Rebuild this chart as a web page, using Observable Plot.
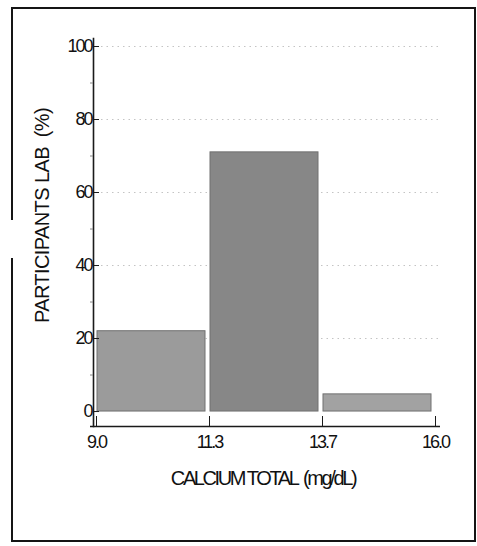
<!DOCTYPE html>
<html>
<head>
<meta charset="utf-8">
<script src="https://cdn.jsdelivr.net/npm/d3@7"></script>
<script src="https://cdn.jsdelivr.net/npm/@observablehq/plot@0.6"></script>
<style>
  html, body { margin: 0; padding: 0; background: #fff; }
  #wrap { position: relative; width: 477px; height: 546px; overflow: hidden; }
  #border { position: absolute; left: 11px; top: 7px; width: 461px; height: 531px;
            border: 2px solid #151515; box-sizing: content-box; pointer-events: none; }
  #gap { position: absolute; left: 6px; top: 220px; width: 12px; height: 38px; background: #fff; }
  #chart { position: absolute; left: 0; top: 0; }
  #chart g[aria-label="y-axis tick label"],
  #chart g[aria-label="x-axis tick label"] { font-size: 18px; }
  #chart g[aria-label="y-axis tick label"] text,
  #chart g[aria-label="x-axis tick label"] text { letter-spacing: -2px; }
  #chart g.xtitle text { letter-spacing: -2.4px; }
  #chart g.ytitle text { letter-spacing: -0.6px; }
</style>
</head>
<body>
<div id="wrap"><div id="chart"></div><div id="border"></div><div id="gap"></div></div>
<script>
// Bin boundaries (x tick labels), in mg/dL
const binEdges = ["9.0", "11.3", "13.7", "16.0"];
// Bins (lower / upper edge labels) and share of participant labs (%)
const binLower = ["9.0", "11.3", "13.7"];
const binUpper = ["11.3", "13.7", "16.0"];
const percentLabs = [22, 71, 4.7];
// Y axis ticks
const yTicks = [0, 20, 40, 60, 80, 100];
const yMinorTicks = [10, 30, 50, 70, 90];
const gridLines = [20, 40, 60, 80, 100];
const xTitle = "CALCIUM TOTAL  (mg/dL)";
const yTitle = "PARTICIPANTS LAB  (%)";
const yMin = -4.1;

const bars = binLower.map((lo, i) => ({
  lo: binEdges.indexOf(lo),
  hi: binEdges.indexOf(binUpper[i]),
  bin: lo + "–" + binUpper[i],
  pct: percentLabs[i]
}));

const plot = Plot.plot({
  width: 477,
  height: 546,
  marginLeft: 93,
  marginRight: 45,
  marginTop: 46,
  marginBottom: 120,
  style: { fontFamily: "'Liberation Sans', Arial, sans-serif", color: "#111", background: "transparent" },
  x: { domain: [0, binEdges.length - 1], axis: null },
  y: { domain: [yMin, 100], axis: null },
  color: { type: "ordinal", domain: bars.map(d => d.bin), range: ["#9b9b9b", "#878787", "#a2a2a2"] },
  marks: [
    Plot.ruleY(gridLines, { stroke: "#c4c4c4", strokeDasharray: "1.5,4", insetLeft: 8, insetRight: -6 }),
    Plot.rectY(bars, { x1: "lo", x2: "hi", y1: 0, y2: "pct", fill: "bin", stroke: "#707070", strokeWidth: 1, insetLeft: 4, insetRight: 1 }),
    // axis lines
    Plot.ruleY([yMin], { stroke: "#1a1a1a", strokeWidth: 1.6, insetLeft: -3, insetRight: -8 }),
    Plot.frame({ anchor: "left", stroke: "#1a1a1a", strokeWidth: 1.6, insetTop: -8 }),
    // y ticks & labels
    Plot.axisY(yTicks, { tickSize: -6, tickPadding: 8, fontSize: 18, label: null, stroke: "#1a1a1a", fill: "#111" }),
    Plot.axisY(yMinorTicks, { tickSize: 3, tickFormat: () => "", label: null, stroke: "#888" }),
    // x ticks & labels
    Plot.axisX(d3.range(binEdges.length), { tickSize: -10, tickPadding: 19, fontSize: 18, dx: 3,
      tickFormat: i => binEdges[i], label: null, stroke: "#1a1a1a", fill: "#111" }),
    // titles
    Plot.text([xTitle], { frameAnchor: "bottom", dy: 52, fontSize: 20, lineAnchor: "middle", textAnchor: "middle", className: "xtitle", fill: "#111" }),
    Plot.text([yTitle], { frameAnchor: "left", rotate: -90, dx: -51, dy: -21, fontSize: 20, lineAnchor: "middle", textAnchor: "middle", className: "ytitle", fill: "#111" })
  ]
});
document.getElementById("chart").append(plot);
</script>
</body>
</html>
